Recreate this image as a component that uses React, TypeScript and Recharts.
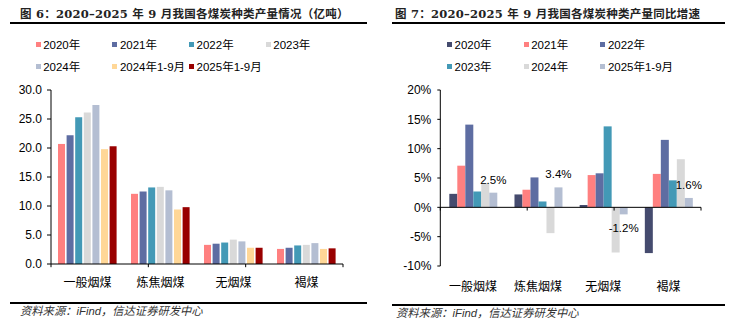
import React from "react";
import { BarChart, Bar, XAxis, YAxis, ReferenceLine, LabelList } from "recharts";

const categories = ["一般烟煤", "炼焦烟煤", "无烟煤", "褐煤"];
const categoryEdges = [0, 1, 2, 3, 4];

// 图6：产量（亿吨）
const out2020 = [20.7, 12.1, 3.3, 2.6];
const out2021 = [22.2, 12.5, 3.5, 2.8];
const out2022 = [25.3, 13.2, 3.7, 3.2];
const out2023 = [26.1, 13.3, 4.2, 3.3];
const out2024 = [27.4, 12.7, 3.9, 3.6];
const out2024Ytd = [19.8, 9.4, 2.8, 2.6];
const out2025Ytd = [20.3, 9.8, 2.8, 2.7];
const outTicks = [0, 5, 10, 15, 20, 25, 30];

// 图7：同比增速（%）
const yoy2020 = [2.3, 2.2, 0.4, -7.8];
const yoy2021 = [7.1, 3.0, 5.5, 5.7];
const yoy2022 = [14.1, 5.1, 5.8, 11.5];
const yoy2023 = [2.7, 1.0, 13.8, 4.6];
const yoy2024 = [4.1, -4.4, -7.7, 8.2];
const yoy2025Ytd = [2.5, 3.4, -1.2, 1.6];
const yoyTicks = [-10, -5, 0, 5, 10, 15, 20];

const outSeries = [
  { key: "a", name: "2020年", color: "#FF8080", values: out2020 },
  { key: "b", name: "2021年", color: "#5E6DA2", values: out2021 },
  { key: "c", name: "2022年", color: "#4399B6", values: out2022 },
  { key: "d", name: "2023年", color: "#D9D9D9", values: out2023 },
  { key: "e", name: "2024年", color: "#B4BED2", values: out2024 },
  { key: "f", name: "2024年1-9月", color: "#FFD797", values: out2024Ytd },
  { key: "g", name: "2025年1-9月", color: "#990000", values: out2025Ytd },
];

const yoySeries = [
  { key: "a", name: "2020年", color: "#454B6E", values: yoy2020 },
  { key: "b", name: "2021年", color: "#FF8080", values: yoy2021 },
  { key: "c", name: "2022年", color: "#5E6DA2", values: yoy2022 },
  { key: "d", name: "2023年", color: "#4399B6", values: yoy2023 },
  { key: "e", name: "2024年", color: "#D9D9D9", values: yoy2024 },
  { key: "f", name: "2025年1-9月", color: "#B4BED2", values: yoy2025Ytd },
];

const toRows = (series: typeof outSeries) =>
  categories.map((name, i) => {
    const row: any = { name };
    series.forEach((s) => (row[s.key] = s.values[i]));
    return row;
  });

const outData = toRows(outSeries);
const yoyData = toRows(yoySeries);

const sans = "'Liberation Sans', Arial, 'Noto Sans CJK SC', sans-serif";
const titleFont = "'DejaVu Serif', 'Noto Sans CJK SC', serif";
const tickStyle = { fontSize: 12, fill: "#000", fontFamily: sans };

const Legend = ({ items, left, cols }: any) => (
  <div
    style={{
      position: "absolute",
      left,
      top: 33,
      width: cols * 76.7,
      display: "flex",
      flexWrap: "wrap",
      fontFamily: sans,
      fontSize: 11.5,
      color: "#000",
    }}
  >
    {items.map((s: any) => (
      <div key={s.name} style={{ width: 76.7, height: 22, display: "flex", alignItems: "center" }}>
        <span style={{ width: 5, height: 5, background: s.color, marginRight: 2.5 }} />
        <span>{s.name}</span>
      </div>
    ))}
  </div>
);

const Panel = ({ left, lineTop, footTop, lineLeft, lineWidth, title, titleLeft, footLineTop }: any) => (
  <>
    <div
      style={{
        position: "absolute",
        left: titleLeft,
        top: 5,
        fontFamily: titleFont,
        fontWeight: "bold",
        fontSize: 11.5,
        letterSpacing: 0.25,
        color: "#222",
        whiteSpace: "nowrap",
        lineHeight: "18px",
      }}
    >
      {title}
    </div>
    <div style={{ position: "absolute", left: lineLeft, top: lineTop, width: lineWidth, height: 2, background: "#000" }} />
    <div style={{ position: "absolute", left: lineLeft, top: footLineTop, width: lineWidth, height: 2, background: "#000" }} />
    <div
      style={{
        position: "absolute",
        left: left,
        top: footTop,
        fontFamily: sans,
        fontStyle: "italic",
        fontSize: 11.3,
        color: "#333",
        whiteSpace: "nowrap",
        lineHeight: "14px",
      }}
    >
      资料来源：iFind，信达证券研发中心
    </div>
  </>
);

export default function App() {
  return (
    <div style={{ position: "absolute", left: 0, top: 0, width: 734, height: 326, background: "#fff", overflow: "hidden" }}>
      <Panel
        title="图 6：2020–2025 年 9 月我国各煤炭种类产量情况（亿吨）"
        titleLeft={20}
        lineLeft={10}
        lineWidth={357}
        lineTop={22}
        footLineTop={302}
        left={20}
        footTop={304}
      />
      <Panel
        title="图 7：2020–2025 年 9 月我国各煤炭种类产量同比增速"
        titleLeft={395}
        lineLeft={392}
        lineWidth={333}
        lineTop={22}
        footLineTop={304}
        left={396}
        footTop={306}
      />
      <Legend items={outSeries} left={35.7} cols={4} />
      <Legend items={yoySeries} left={447} cols={3} />

      <div style={{ position: "absolute", left: 0, top: 0 }}>
        <BarChart
          width={367}
          height={326}
          data={outData}
          margin={{ top: 90, right: 24, bottom: 32, left: 0 }}
          barSize={7}
          barGap={1.6}
        >
          <XAxis dataKey="name" height={30} axisLine={{ stroke: "#000" }} tickLine={false} tickSize={6} tickMargin={8} tick={tickStyle} interval={0} />
          <XAxis xAxisId="edge" type="number" domain={[0, categories.length]} hide />
          <YAxis
            width={51}
            domain={[0, 30]}
            ticks={outTicks}
            tickFormatter={(v: number) => v.toFixed(1)}
            axisLine={{ stroke: "#000" }}
            tickLine={{ stroke: "#000" }}
            tickSize={4}
            tickMargin={5}
            tick={tickStyle}
          />
          {outSeries.map((s) => (
            <Bar key={s.key} dataKey={s.key} name={s.name} fill={s.color} isAnimationActive={false} />
          ))}
          {categoryEdges.map((e) => (
            <ReferenceLine
              key={e}
              xAxisId="edge"
              segment={[{ x: e, y: 0 }, { x: e, y: -0.55 }]}
              stroke="#000"
              ifOverflow="visible"
            />
          ))}
        </BarChart>
      </div>

      <div style={{ position: "absolute", left: 367, top: 0 }}>
        <BarChart
          width={367}
          height={326}
          data={yoyData}
          margin={{ top: 90, right: 33, bottom: 30, left: 0 }}
          barSize={8}
          barGap={0}
        >
          <XAxis dataKey="name" height={30} axisLine={false} tickLine={false} tickSize={6} tickMargin={10} tick={tickStyle} interval={0} />
          <XAxis xAxisId="edge" type="number" domain={[0, categories.length]} hide />
          <YAxis
            width={73.3}
            domain={[-10, 20]}
            ticks={yoyTicks}
            tickFormatter={(v: number) => `${v}%`}
            axisLine={{ stroke: "#000" }}
            tickLine={{ stroke: "#000" }}
            tickSize={3}
            tickMargin={6}
            tick={tickStyle}
          />
          {yoySeries.map((s, i) => (
            <Bar key={s.key} dataKey={s.key} name={s.name} fill={s.color} isAnimationActive={false}>
              {i === yoySeries.length - 1 && (
                <LabelList
                  dataKey={s.key}
                  position="top"
                  offset={9}
                  formatter={(v: any) => `${v}%`}
                  fill="#000"
                  fontSize={11.5}
                  fontFamily={sans}
                />
              )}
            </Bar>
          ))}
          <ReferenceLine y={0} stroke="#000" />
          {categoryEdges.map((e) => (
            <ReferenceLine
              key={e}
              xAxisId="edge"
              segment={[{ x: e, y: 0 }, { x: e, y: -0.55 }]}
              stroke="#000"
              ifOverflow="visible"
            />
          ))}
        </BarChart>
      </div>
    </div>
  );
}
